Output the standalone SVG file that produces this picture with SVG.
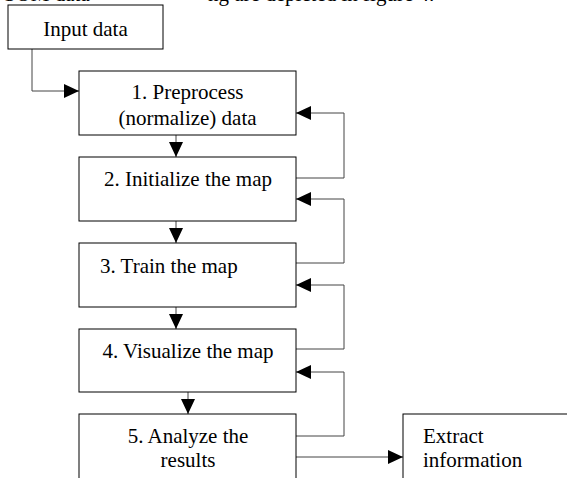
<svg xmlns="http://www.w3.org/2000/svg" width="567" height="478" viewBox="0 0 567 478">
<style>
  .box { fill: #fff; stroke: #000; stroke-width: 1; }
  .t { font-family: "Liberation Serif", "Times New Roman", serif; font-size: 21px; fill: #000; }
  .c { text-anchor: middle; }
  .conn { fill: none; stroke: #444; stroke-width: 1; }
</style>
<defs>
  <marker id="ah" markerUnits="userSpaceOnUse" markerWidth="16" markerHeight="14" refX="15" refY="7" orient="auto">
    <path d="M0,0 L15,7 L0,14 z" fill="#000"/>
  </marker>
</defs>
<rect width="567" height="478" fill="#fff"/>
<g id="header-fragment">
  <text class="t" x="4" y="0.5">SOM data</text>
  <text class="t" x="208" y="0.5">ng are depicted in figure 4.</text>
</g>
<g id="connectors">
  <path class="conn" d="M32,49 V91 H79" marker-end="url(#ah)"/>
  <path class="conn" d="M176,135 V157" marker-end="url(#ah)"/>
  <path class="conn" d="M176,221 V243" marker-end="url(#ah)"/>
  <path class="conn" d="M176,307 V329" marker-end="url(#ah)"/>
  <path class="conn" d="M188,392 V414" marker-end="url(#ah)"/>
  <path class="conn" d="M296,178 H344 V113 H296" marker-end="url(#ah)"/>
  <path class="conn" d="M296,263 H344 V199 H296" marker-end="url(#ah)"/>
  <path class="conn" d="M296,349 H344 V285 H296" marker-end="url(#ah)"/>
  <path class="conn" d="M296,436 H344 V372 H296" marker-end="url(#ah)"/>
  <path class="conn" d="M296,457 H403" marker-end="url(#ah)"/>
</g>
<g id="input">
  <rect class="box" x="8" y="5" width="155" height="44"/>
  <text class="t c" x="85.5" y="36">Input data</text>
</g>
<g id="step1">
  <rect class="box" x="79" y="71" width="217" height="64"/>
  <text class="t c" x="187.5" y="99">1. Preprocess</text>
  <text class="t c" x="187.5" y="125">(normalize) data</text>
</g>
<g id="step2">
  <rect class="box" x="79" y="157" width="217" height="64"/>
  <text class="t c" x="188" y="186">2. Initialize the map</text>
</g>
<g id="step3">
  <rect class="box" x="79" y="243" width="217" height="64"/>
  <text class="t" x="100" y="273">3. Train the map</text>
</g>
<g id="step4">
  <rect class="box" x="79" y="329" width="217" height="63"/>
  <text class="t c" x="188" y="358">4. Visualize the map</text>
</g>
<g id="step5">
  <rect class="box" x="79" y="414" width="217" height="100"/>
  <text class="t c" x="188" y="443">5. Analyze the</text>
  <text class="t c" x="188" y="467">results</text>
</g>
<g id="extract">
  <rect class="box" x="403" y="414" width="200" height="100"/>
  <text class="t" x="423" y="443">Extract</text>
  <text class="t" x="423" y="467">information</text>
</g>
</svg>
